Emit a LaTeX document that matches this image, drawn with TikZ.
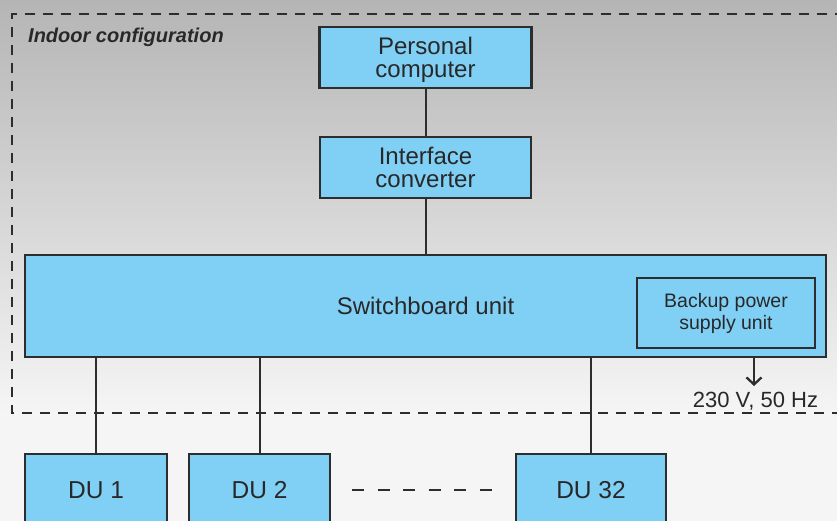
\documentclass[tikz,border=0pt]{standalone}
\usepackage{fontspec}
\setmainfont{Liberation Sans}
\usepackage{xcolor}
\usetikzlibrary{arrows.meta}

\definecolor{boxblue}{RGB}{128,207,245}
\definecolor{edgegray}{RGB}{45,45,45}
\definecolor{textgray}{RGB}{40,40,40}
\definecolor{bgtop}{RGB}{181,181,181}
\definecolor{bgbottom}{RGB}{245,245,245}

\tikzset{
  unit/.style={draw=edgegray, line width=2.6pt, fill=boxblue, text=textgray,
    align=center, inner sep=0pt, font=\fontsize{24}{23}\selectfont},
  wire/.style={draw=edgegray, line width=2pt}
}

\begin{document}
\begin{tikzpicture}[x=1pt,y=-1pt]
  \clip (0,0) rectangle (837,521);
  \shade[top color=bgtop, bottom color=bgbottom] (0,0) rectangle (837,413);
  \fill[bgbottom] (0,413) rectangle (837,521);

  % indoor part
  \draw[edgegray, line width=2.3pt, dash pattern=on 10pt off 8pt]
    (845,14) -- (12,14) -- (12,413) -- (845,413);
  \node[anchor=west, inner sep=0pt, text=textgray,
    font=\fontsize{20}{24}\selectfont\bfseries\itshape] (title) at (28,37) {Indoor configuration};

  \node[unit, minimum width=212, minimum height=61, text depth=0pt] (pc) at (425.5,57.5) {Personal\\computer};
  \node[unit, minimum width=211, minimum height=61] (conv) at (425.5,167.5) {Interface\\converter};
  \node[unit, minimum width=801, minimum height=102] (sw) at (425.5,306) {Switchboard unit};
  \node[unit, minimum width=178, minimum height=70, font=\fontsize{19.5}{22}\selectfont]
    (ups) at (726,313) {Backup power\\supply unit};

  \draw[wire] (pc.south) -- (conv.north);
  \draw[wire] (conv.south) -- (sw.north);

  % mains supply
  \coordinate (mains) at (754,386);
  \draw[wire, line width=2.3pt, -{Straight Barb[length=7pt, width=15pt]}] (sw.south -| mains) -- (mains);
  \node[inner sep=0pt, text=textgray, font=\fontsize{22}{24}\selectfont] (mainslabel) at (755.5,401) {230 V, 50 Hz};

  % display units
  \node[unit, minimum width=142, minimum height=72, font=\fontsize{24.5}{24}\selectfont] (du1) at (96,490) {DU 1};
  \node[unit, minimum width=141, minimum height=72, font=\fontsize{24.5}{24}\selectfont] (du2) at (259.5,490) {DU 2};
  \node[unit, minimum width=150, minimum height=72, font=\fontsize{24.5}{24}\selectfont] (du32) at (591,490) {DU 32};

  \draw[wire] (sw.south -| du1.north) -- (du1.north);
  \draw[wire] (sw.south -| du2.north) -- (du2.north);
  \draw[wire] (sw.south -| du32.north) -- (du32.north);
  \draw[edgegray, line width=2.3pt, dash pattern=on 12pt off 13.5pt, shorten <=21pt, shorten >=21pt]
    (du2) -- (du32);
\end{tikzpicture}
\end{document}
